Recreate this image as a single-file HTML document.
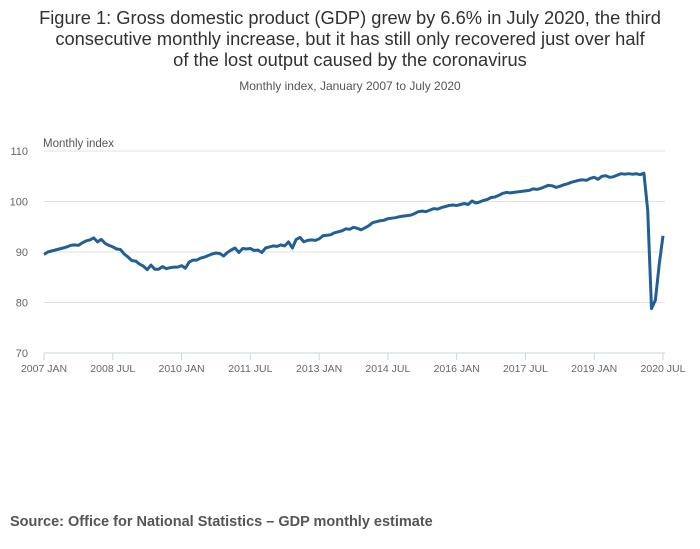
<!DOCTYPE html>
<html><head><meta charset="utf-8"><style>
body{margin:0;background:#fff;font-family:"Liberation Sans","DejaVu Sans",sans-serif;}
#wrap{position:relative;width:700px;height:549px;overflow:hidden;}
svg text{font-family:"Liberation Sans","DejaVu Sans",sans-serif;}
</style></head><body>
<div id="wrap">
<svg id="chart" width="700" height="549">
<text x="350" y="24" text-anchor="middle" font-size="18.3" fill="#323132">Figure 1: Gross domestic product (GDP) grew by 6.6% in July 2020, the third</text>
<text x="350" y="45" text-anchor="middle" font-size="18.3" fill="#323132">consecutive monthly increase, but it has still only recovered just over half</text>
<text x="350" y="66" text-anchor="middle" font-size="18.3" fill="#323132">of the lost output caused by the coronavirus</text>
<text x="350" y="90" text-anchor="middle" font-size="12" fill="#555">Monthly index, January 2007 to July 2020</text>
<text x="43" y="147" font-size="11.5" fill="#555">Monthly index</text>
<g id="grid"></g><g id="xaxis"></g>
<path id="line" fill="none" stroke="#206095" stroke-width="3" stroke-linejoin="round"></path>
<text x="10" y="526" font-size="14.5" font-weight="bold" fill="#555">Source: Office for National Statistics – GDP monthly estimate</text>
</svg></div>
<script>
const yTicks=[70,80,90,100,110];
const xTickLabels=["2007 JAN","2008 JUL","2010 JAN","2011 JUL","2013 JAN","2014 JUL","2016 JAN","2017 JUL","2019 JAN","2020 JUL"];
const xTickIndex=[0,18,36,54,72,90,108,126,144,162];
const gdpValues=[
89.5,90.0,90.2,90.4,90.6,90.8,91.0,91.3,91.4,91.3,91.8,92.2,
92.4,92.8,92.0,92.5,91.7,91.3,91.0,90.6,90.5,89.6,89.0,88.3,
88.2,87.6,87.2,86.5,87.4,86.6,86.6,87.1,86.7,86.9,87.0,87.0,
87.3,86.8,88.0,88.4,88.4,88.8,89.0,89.3,89.6,89.8,89.7,89.2,
89.9,90.4,90.8,89.9,90.7,90.6,90.7,90.3,90.4,89.9,90.8,91.0,
91.2,91.1,91.4,91.2,92.0,90.8,92.5,92.9,92.0,92.3,92.4,92.3,
92.6,93.2,93.3,93.4,93.8,94.0,94.2,94.6,94.5,94.9,94.7,94.4,
94.8,95.2,95.8,96.0,96.2,96.3,96.6,96.7,96.8,97.0,97.1,97.2,
97.3,97.6,98.0,98.1,98.0,98.3,98.6,98.5,98.8,99.0,99.2,99.3,
99.2,99.4,99.6,99.4,100.1,99.7,99.9,100.2,100.4,100.8,100.9,101.2,
101.6,101.8,101.7,101.8,101.9,102.0,102.1,102.2,102.5,102.4,102.6,102.9,
103.2,103.1,102.8,103.0,103.3,103.5,103.8,104.0,104.2,104.3,104.2,104.6,
104.8,104.4,105.0,105.1,104.8,104.9,105.2,105.5,105.4,105.5,105.4,105.5,
105.3,105.6,98.3,78.8,80.5,87.5,93.2];
const NS="http://www.w3.org/2000/svg";
const x0=44,x1=663,y70=353,y110=151;
const xs=i=>x0+(x1-x0)*i/162;
const ys=v=>y70+(v-70)*(y110-y70)/40;
const grid=document.getElementById('grid');
yTicks.forEach(t=>{
 const l=document.createElementNS(NS,'line');
 l.setAttribute('x1',x0);l.setAttribute('x2',x1+2);l.setAttribute('y1',ys(t));l.setAttribute('y2',ys(t));
 l.setAttribute('stroke',t===70?'#c8d4e6':'#e2e2e2');l.setAttribute('stroke-width',1);
 
 
 grid.appendChild(l);
 const tx=document.createElementNS(NS,'text');
 tx.setAttribute('x',28);tx.setAttribute('y',ys(t)+4);tx.setAttribute('text-anchor','end');
 tx.setAttribute('font-size','11');tx.setAttribute('fill','#666');tx.textContent=t;
 
 
 grid.appendChild(tx);
});
const xa=document.getElementById('xaxis');
xTickLabels.forEach((lab,k)=>{
 const x=xs(xTickIndex[k]);
 const l=document.createElementNS(NS,'line');
 l.setAttribute('x1',x);l.setAttribute('x2',x);l.setAttribute('y1',353);l.setAttribute('y2',360);
 l.setAttribute('stroke','#c8d4e6');
 
 
 xa.appendChild(l);
 const tx=document.createElementNS(NS,'text');
 tx.setAttribute('x',x);tx.setAttribute('y',372);tx.setAttribute('text-anchor','middle');
 tx.setAttribute('font-size','10.5');tx.setAttribute('fill','#666');tx.textContent=lab;
 
 
 xa.appendChild(tx);
});
document.getElementById('line').setAttribute('d',gdpValues.map((v,i)=>(i?'L':'M')+xs(i).toFixed(1)+','+ys(v).toFixed(1)).join(''));
</script>
</body></html>
